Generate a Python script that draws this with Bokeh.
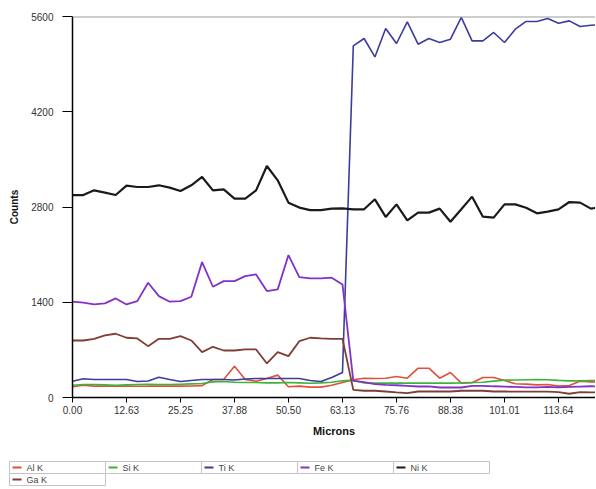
from bokeh.plotting import figure
from bokeh.layouts import column, row
from bokeh.models import Range1d, FixedTicker, Span
from bokeh.core.properties import value
from bokeh.embed import file_html
from bokeh.resources import INLINE

microns = [0.00, 2.53, 5.05, 7.58, 10.10, 12.63, 15.15, 17.68, 20.20, 22.73,
           25.25, 27.78, 30.30, 32.83, 35.35, 37.88, 40.40, 42.93, 45.45, 47.98,
           50.50, 53.03, 55.56, 58.08, 60.61, 63.13, 65.66, 68.18, 70.71, 73.23,
           75.76, 78.28, 80.81, 83.33, 85.86, 88.38, 90.91, 93.43, 95.96, 98.48,
           101.01, 103.54, 106.06, 108.59, 111.11, 113.64, 116.16, 118.69, 121.21, 123.74]

al_k = [157, 181, 167, 167, 167, 167, 165, 167, 170, 167,
        167, 170, 175, 265, 265, 461, 265, 240, 280, 329,
        157, 167, 152, 152, 181, 220, 260, 284, 280, 284,
        309, 284, 431, 431, 284, 368, 211, 216, 294, 294,
        250, 201, 196, 186, 190, 167, 175, 240, 230, 230]

si_k = [180, 190, 190, 185, 180, 185, 190, 195, 190, 190,
        195, 200, 205, 230, 235, 225, 220, 220, 215, 215,
        220, 215, 210, 215, 225, 245, 255, 215, 211, 211,
        211, 211, 211, 211, 211, 211, 215, 220, 225, 240,
        255, 258, 260, 262, 260, 252, 245, 245, 250, 250]

ti_k = [240, 275, 265, 265, 265, 265, 235, 243, 299, 265,
        235, 250, 265, 265, 265, 257, 272, 280, 280, 280,
        280, 280, 250, 235, 294, 368, 5168, 5277, 5006, 5424,
        5203, 5521, 5193, 5277, 5218, 5266, 5586, 5242, 5242, 5365,
        5218, 5413, 5527, 5527, 5571, 5502, 5536, 5453, 5472, 5480]

fe_k = [1408, 1393, 1368, 1383, 1456, 1368, 1417, 1687, 1490, 1408,
        1417, 1481, 1990, 1628, 1711, 1711, 1784, 1809, 1564, 1589,
        2093, 1770, 1750, 1750, 1761, 1662, 245, 225, 196, 186,
        180, 172, 162, 162, 147, 150, 147, 172, 172, 165,
        160, 155, 150, 150, 155, 150, 155, 160, 165, 160]

ni_k = [2976, 2976, 3045, 3011, 2976, 3114, 3094, 3094, 3119, 3085,
        3035, 3119, 3241, 3045, 3060, 2923, 2923, 3045, 3403, 3192,
        2864, 2791, 2755, 2755, 2776, 2781, 2766, 2766, 2913, 2654,
        2839, 2604, 2717, 2717, 2776, 2584, 2766, 2952, 2658, 2643,
        2839, 2839, 2790, 2707, 2732, 2766, 2873, 2864, 2776, 2800]

ga_k = [838, 838, 863, 912, 937, 878, 868, 755, 863, 863,
        902, 838, 667, 745, 691, 691, 706, 706, 500, 667,
        608, 828, 878, 868, 863, 863, 113, 99, 99, 88,
        74, 63, 88, 88, 88, 88, 99, 99, 99, 88,
        88, 85, 85, 85, 85, 80, 55, 80, 75, 75]

series_names = ["Al K", "Si K", "Ti K", "Fe K", "Ni K", "Ga K"]
series_values = [al_k, si_k, ti_k, fe_k, ni_k, ga_k]
series_colors = ["#E0503C", "#3CB43C", "#3C3C9C", "#8232C8", "#1A1A1A", "#7E3E36"]
series_widths = [1.6, 1.6, 1.6, 1.8, 2.2, 1.8]

x_ticks = [0.00, 12.63, 25.25, 37.88, 50.50, 63.13, 75.76, 88.38, 101.01, 113.64]
x_tick_labels = ["0.00", "12.63", "25.25", "37.88", "50.50", "63.13", "75.76", "88.38", "101.01", "113.64"]
y_ticks = [0, 1400, 2800, 4200, 5600]

FONT = "Liberation Sans"

p = figure(width=595, height=439, output_backend="svg", toolbar_location=None,
           x_range=Range1d(0, 122.29), y_range=Range1d(0, 5600),
           min_border_left=72, min_border_right=0, min_border_top=16, min_border_bottom=42)
p.grid.visible = False
p.outline_line_color = None
p.background_fill_color = "white"
p.border_fill_color = "white"

for vals, col, w in zip(series_values, series_colors, series_widths):
    p.line(microns, vals, line_color=col, line_width=w)

p.add_layout(Span(location=5600, dimension="width", line_color="#9C9C9C", line_width=2))

p.xaxis.ticker = FixedTicker(ticks=x_ticks)
p.xaxis.major_label_overrides = {t: l for t, l in zip(x_ticks, x_tick_labels)}
p.yaxis.ticker = FixedTicker(ticks=y_ticks)
p.xaxis.minor_tick_line_color = None
p.yaxis.minor_tick_line_color = None
p.xaxis.axis_label = "Microns"
p.yaxis.axis_label = "Counts"
for ax in (p.xaxis, p.yaxis):
    ax.axis_line_color = "#000000"
    ax.axis_line_width = 1.5
    ax.major_tick_line_color = "#000000"
    ax.major_tick_in = 0
    ax.major_label_text_font = FONT
    ax.major_label_text_font_size = "10px"
    ax.major_label_text_color = "#333333"
    ax.axis_label_text_font = FONT
    ax.axis_label_text_font_style = "bold"
    ax.axis_label_text_color = "#111111"
p.xaxis.major_tick_out = 5
p.xaxis.major_label_standoff = 3
p.xaxis.axis_label_standoff = 8
p.xaxis.axis_label_text_font_size = "11px"
p.yaxis.major_tick_out = 10
p.yaxis.major_label_standoff = 9
p.yaxis.axis_label_standoff = 8
p.yaxis.axis_label_text_font_size = "10px"

# legend panel (table-like cells)
lg = figure(width=595, height=49, output_backend="svg", toolbar_location=None,
            x_range=Range1d(0, 595), y_range=Range1d(49, 0),
            x_axis_type=None, y_axis_type=None,
            min_border=0, min_border_left=0, min_border_right=0,
            min_border_top=0, min_border_bottom=0)
lg.grid.visible = False
lg.outline_line_color = None

cell_w = 96.0
row_h = 12.0
left0 = 9.0
top0 = 22.0
ncols = 5
lefts, rights, tops, bottoms = [], [], [], []
gx0, gx1, gy, tx = [], [], [], []
for k in range(len(series_names)):
    r, c = divmod(k, ncols)
    l = left0 + c * cell_w
    t = top0 + r * row_h
    lefts.append(l); rights.append(l + cell_w)
    tops.append(t); bottoms.append(t + row_h)
    gx0.append(l + 3); gx1.append(l + 12)
    gy.append(t + row_h / 2)
    tx.append(l + 17)

lg.quad(left=lefts, right=rights, top=tops, bottom=bottoms,
        fill_color="white", line_color="#C4C4C4", line_width=1)
lg.segment(x0=gx0, y0=gy, x1=gx1, y1=gy, line_color=series_colors, line_width=2)
lg.text(x=tx, y=gy, text=series_names, text_font=value(FONT), text_font_size="9px",
        text_color="#444444", text_baseline="middle", text_align="left")

layout = column(p, row(lg), spacing=0)
open("out.html", "w").write(file_html(layout, INLINE))
